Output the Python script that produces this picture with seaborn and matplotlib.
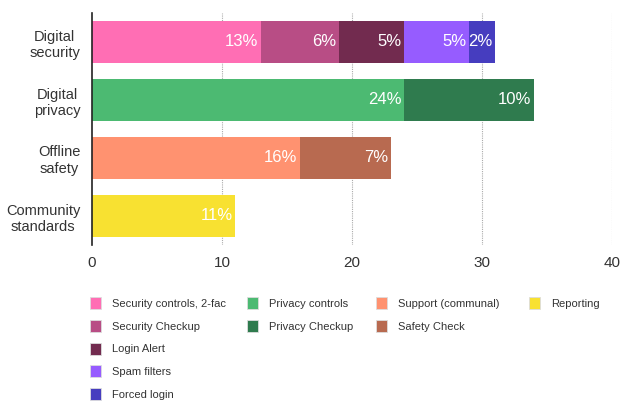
import matplotlib
matplotlib.use("Agg")
import matplotlib.pyplot as plt
import seaborn as sns
import pandas as pd
from matplotlib.patches import Patch

categories = ["Digital\nsecurity", "Digital\nprivacy", "Offline\nsafety", "Community\nstandards"]

security_names = ["Security controls, 2-fac", "Security Checkup", "Login Alert", "Spam filters", "Forced login"]
security_values = [13, 6, 5, 5, 2]
privacy_names = ["Privacy controls", "Privacy Checkup"]
privacy_values = [24, 10]
offline_names = ["Support (communal)", "Safety Check"]
offline_values = [16, 7]
community_names = ["Reporting"]
community_values = [11]

colors = {
    "Security controls, 2-fac": "#FF6EB4",
    "Security Checkup": "#B84D85",
    "Login Alert": "#722B4F",
    "Spam filters": "#965CFF",
    "Forced login": "#463DBF",
    "Privacy controls": "#4CBA72",
    "Privacy Checkup": "#2F7B4E",
    "Support (communal)": "#FF9270",
    "Safety Check": "#B86A50",
    "Reporting": "#F8E131",
}

xticks = [0, 10, 20, 30, 40]

rows = []
for cat, names, vals in zip(categories,
                            [security_names, privacy_names, offline_names, community_names],
                            [security_values, privacy_values, offline_values, community_values]):
    start = 0
    for n, v in zip(names, vals):
        rows.append(dict(category=cat, segment=n, value=v, start=start, end=start + v))
        start += v
df = pd.DataFrame(rows)

sns.set_theme(style="white")
plt.rcParams["font.family"] = ["Liberation Sans", "DejaVu Sans"]

fig = plt.figure(figsize=(6.21, 4.05), dpi=100)
ax = fig.add_axes([92 / 621, 1 - 245 / 405, 520 / 621, 232 / 405])

for seg in list(df["segment"])[::-1]:
    sub = df[df["segment"] == seg]
    sns.barplot(data=sub, x="end", y="category", order=categories, orient="h",
                color=colors[seg], width=0.72, linewidth=0, saturation=1, ax=ax, zorder=3)

cat_idx = {c: i for i, c in enumerate(categories)}
for _, r in df.iterrows():
    ax.text(r["end"] - 0.2, cat_idx[r["category"]], f"{r['value']}%", ha="right", va="center",
            color="white", fontsize=12, zorder=5)

ax.set_xlim(0, 40)
ax.set_ylim(3.5, -0.5)
ax.set_xticks(xticks)
ax.set_xticklabels([str(t) for t in xticks], fontsize=11, color="#333333")
ax.tick_params(axis="y", labelsize=10.5, colors="#333333", length=0, pad=8.5)
ax.tick_params(axis="x", length=0, pad=8)
for lab in ax.get_yticklabels():
    lab.set_multialignment("center")
ax.set_xlabel("")
ax.set_ylabel("")
for t in xticks[1:]:
    ax.axvline(t, color="#aaaaaa", linestyle=(0, (1, 1)), linewidth=0.8, zorder=1)
for s in ["top", "right", "bottom"]:
    ax.spines[s].set_visible(False)
ax.spines["left"].set_color("#222222")
ax.spines["left"].set_linewidth(1.2)
ax.spines["left"].set_zorder(6)

# legend columns
cols = [security_names, privacy_names, offline_names, community_names]
col_x = [80, 237, 366, 519]
for names, x in zip(cols, col_x):
    handles = [Patch(facecolor=colors[n], edgecolor="#dddddd", linewidth=0.6) for n in names]
    fig.legend(handles, names, loc="upper left", bbox_to_anchor=(x / 621, 1 - 287 / 405),
               frameon=False, fontsize=8, handlelength=1.0, handleheight=1.3,
               handletextpad=1.0, labelspacing=0.96, labelcolor="#333333")

fig.savefig("out.png", dpi=100)
